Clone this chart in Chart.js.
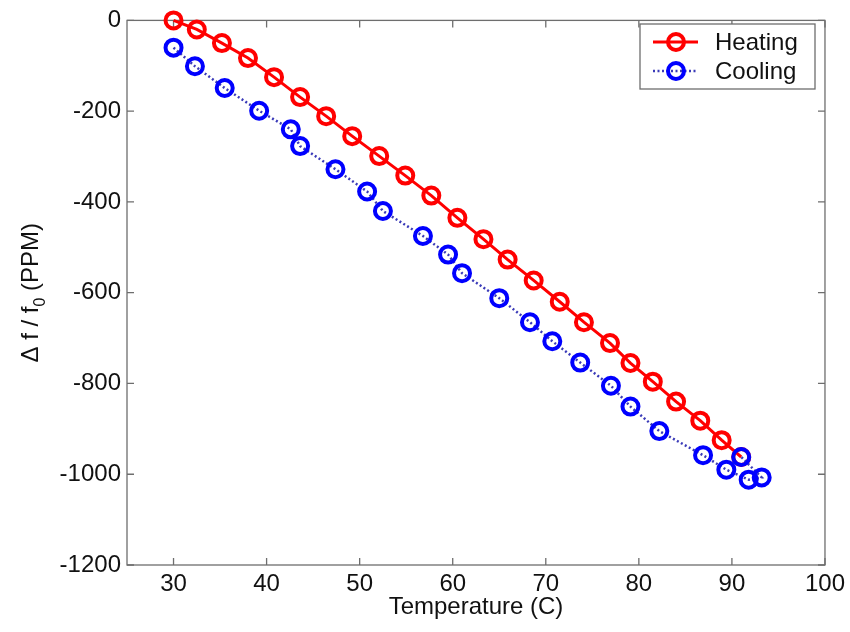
<!DOCTYPE html>
<html>
<head>
<meta charset="utf-8">
<script src="https://cdn.jsdelivr.net/npm/chart.js@4.4.1/dist/chart.umd.min.js"></script>
<style>
  html, body { margin: 0; padding: 0; background: #fff; }
  #wrap { width: 850px; height: 632px; }
</style>
</head>
<body>
<div id="wrap"><canvas id="chart" width="850" height="632"></canvas></div>
<script>
// values
const heatTemp = [30.0, 32.5, 35.2, 38.0, 40.8, 43.6, 46.4, 49.2, 52.1, 54.9, 57.7, 60.5,
    63.3, 65.9, 68.7, 71.5, 74.1, 76.9, 79.1, 81.5, 84.0, 86.6, 88.9, 91.0];
const heatShift = [0, -20, -50, -83, -125, -169, -211, -255, -299, -342, -386, -435,
    -482, -527, -573, -620, -665, -711, -755, -796, -840, -882, -925, -962];

const coolTemp = [30.0, 32.3, 35.5, 39.2, 42.6, 43.6, 47.4, 50.8, 52.5, 56.8, 59.5, 61.0,
    65.0, 68.3, 70.7, 73.7, 77.0, 79.1, 82.2, 86.9, 89.4, 91.8, 93.2, 91.0];
const coolShift = [-60, -101, -149, -199, -240, -277, -328, -377, -420, -475, -516, -557,
    -612, -665, -707, -754, -805, -851, -905, -958, -990, -1012, -1007, -962];

const xTicks = [30, 40, 50, 60, 70, 80, 90, 100];
const yTicks = [0, -200, -400, -600, -800, -1000, -1200];

const FONT = '"Liberation Sans", Arial, sans-serif';
const AXIS_COLOR = '#6e6e6e';

function toPoints(xs, ys) {
    return xs.map((x, i) => ({ x: x, y: ys[i] }));
}

// matlab style box with inward ticks on all four sides
const boxPlugin = {
    id: 'box',
    beforeDatasetsDraw(chart) {
        const { ctx, chartArea: a, scales } = chart;
        ctx.save();
        ctx.strokeStyle = AXIS_COLOR;
        ctx.lineWidth = 1.3;
        ctx.strokeRect(a.left, a.top, a.right - a.left, a.bottom - a.top);
        const len = 7;
        ctx.beginPath();
        scales.x.ticks.forEach(t => {
            const px = scales.x.getPixelForValue(t.value);
            ctx.moveTo(px, a.bottom); ctx.lineTo(px, a.bottom - len);
            ctx.moveTo(px, a.top); ctx.lineTo(px, a.top + len);
        });
        scales.y.ticks.forEach(t => {
            const py = scales.y.getPixelForValue(t.value);
            ctx.moveTo(a.left, py); ctx.lineTo(a.left + len, py);
            ctx.moveTo(a.right, py); ctx.lineTo(a.right - len, py);
        });
        ctx.stroke();
        ctx.restore();
    }
};

// y title with a subscript, drawn by hand
const yTitlePlugin = {
    id: 'yTitle',
    afterDraw(chart) {
        const { ctx, chartArea: a } = chart;
        const cy = (a.top + a.bottom) / 2;
        ctx.save();
        ctx.translate(31, cy);
        ctx.rotate(-Math.PI / 2);
        ctx.fillStyle = '#111';
        ctx.textBaseline = 'middle';
        const big = '24px ' + FONT, small = '16px ' + FONT;
        const p1 = '\u0394 f / f', p2 = '0', p3 = ' (PPM)';
        ctx.font = big;
        const w1 = ctx.measureText(p1).width, w3 = ctx.measureText(p3).width;
        ctx.font = small;
        const w2 = ctx.measureText(p2).width;
        let x = -(w1 + w2 + w3) / 2;
        ctx.font = big;
        ctx.fillText(p1, x, 0);
        x += w1;
        ctx.font = small;
        ctx.fillText(p2, x, 10);
        x += w2;
        ctx.font = big;
        ctx.fillText(p3, x, 0);
        ctx.restore();
    }
};

// legend box inside the top right corner
const legendPlugin = {
    id: 'boxLegend',
    afterDraw(chart) {
        const ctx = chart.ctx;
        const bx = 640, by = 24, bw = 175, bh = 65;
        ctx.save();
        ctx.fillStyle = '#fff';
        ctx.fillRect(bx, by, bw, bh);
        ctx.strokeStyle = AXIS_COLOR;
        ctx.lineWidth = 1.3;
        ctx.strokeRect(bx, by, bw, bh);
        chart.data.datasets.forEach((ds, i) => {
            const y = by + 18 + i * 29;
            ctx.strokeStyle = ds.borderColor;
            ctx.lineWidth = ds.borderWidth;
            ctx.setLineDash(ds.borderDash || []);
            ctx.beginPath();
            ctx.moveTo(bx + 13, y); ctx.lineTo(bx + 58, y);
            ctx.stroke();
            ctx.setLineDash([]);
            ctx.strokeStyle = ds.pointBorderColor;
            ctx.lineWidth = ds.pointBorderWidth;
            ctx.beginPath();
            ctx.arc(bx + 36, y, ds.pointRadius, 0, Math.PI * 2);
            ctx.stroke();
            ctx.fillStyle = '#111';
            ctx.font = '24px ' + FONT;
            ctx.textBaseline = 'middle';
            ctx.fillText(ds.label, bx + 75, y + 1);
        });
        ctx.restore();
    }
};

new Chart(document.getElementById('chart'), {
    type: 'scatter',
    data: {
        datasets: [{
            label: 'Heating',
            data: toPoints(heatTemp, heatShift),
            showLine: true,
            borderColor: '#ff0000',
            borderWidth: 3,
            pointRadius: 8,
            pointBorderWidth: 4,
            pointBorderColor: '#ff0000',
            pointBackgroundColor: 'rgba(0,0,0,0)',
            clip: false,
            order: 1
        }, {
            label: 'Cooling',
            data: toPoints(coolTemp, coolShift),
            showLine: true,
            borderColor: '#3a3ab8',
            borderWidth: 2.5,
            borderDash: [2, 2.5],
            pointRadius: 8,
            pointBorderWidth: 4,
            pointBorderColor: '#0000ff',
            pointBackgroundColor: 'rgba(0,0,0,0)',
            clip: false,
            order: 0
        }]
    },
    options: {
        responsive: false,
        animation: false,
        layout: { padding: { top: 17, right: 24, left: 0, bottom: 0 } },
        plugins: {
            legend: { display: false },
            tooltip: { enabled: false }
        },
        scales: {
            x: {
                type: 'linear',
                min: 25,
                max: 100,
                afterBuildTicks: scale => { scale.ticks = xTicks.map(v => ({ value: v })); },
                afterFit: scale => { scale.height = 67; },
                grid: { display: false, drawTicks: false },
                border: { display: false },
                ticks: {
                    color: '#111', padding: 5, font: { family: FONT, size: 24 },
                    callback: v => String(v)
                },
                title: {
                    display: true,
                    text: 'Temperature (C)',
                    color: '#111',
                    font: { family: FONT, size: 24 },
                    padding: { top: 0, bottom: 10 }
                }
            },
            y: {
                type: 'linear',
                min: -1200,
                max: 0,
                afterBuildTicks: scale => { scale.ticks = yTicks.map(v => ({ value: v })); },
                afterFit: scale => { scale.width = 127; },
                grid: { display: false, drawTicks: false },
                border: { display: false },
                ticks: {
                    color: '#111', padding: 6, font: { family: FONT, size: 24 },
                    callback: v => String(v)
                }
            }
        }
    },
    plugins: [boxPlugin, yTitlePlugin, legendPlugin]
});
</script>
</body>
</html>
